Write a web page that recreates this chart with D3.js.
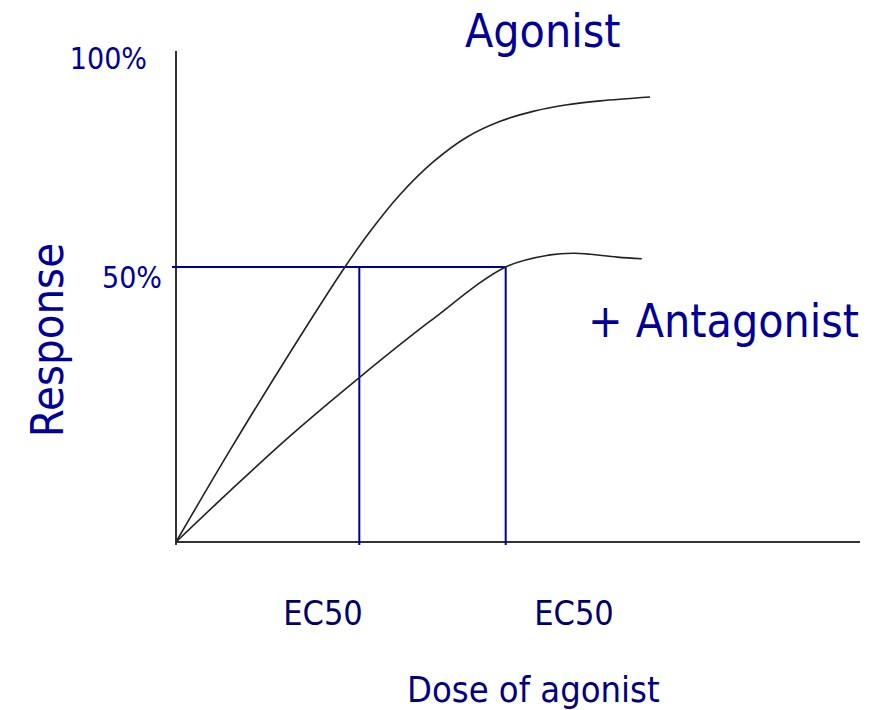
<!DOCTYPE html>
<html lang="en">
<head>
    <meta charset="UTF-8">
    <title>Agonist / Antagonist dose response</title>
    <script src="https://d3js.org/d3.v7.min.js"></script>
    <style>
        body { margin: 0; background: #fff; }
        text { font-family: "DejaVu Sans Condensed", "DejaVu Sans", sans-serif; font-stretch: condensed; }
    </style>
</head>
<body>
    <div id="chart"></div>
    <script>
        // dose (0-100, arbitrary units) and response (% of max)
        var agonistDose = [0, 7.9, 16.7, 24.7, 28.4, 32.7, 37.6, 42.5, 47.4, 52.2, 57.2, 62.0, 69.3];
        var agonistResp = [0, 16.7, 34.5, 50.0, 56.5, 63.1, 69.1, 73.6, 76.5, 78.3, 79.5, 80.2, 80.9];
        var antagDose = [0, 7.9, 16.7, 26.8, 37.1, 48.2, 54.7, 58.3, 64.5, 68.1];
        var antagResp = [0, 9.3, 19.3, 29.9, 40.1, 50.0, 52.2, 52.5, 51.8, 51.5];
        var ec50 = [26.8, 48.2];
        var ec50Labels = ["EC50", "EC50"];
        var halfResp = 50;
        var yTickLabels = ["50%", "100%"];

        var width = 892, height = 710;

        var x = d3.scaleLinear().domain([0, 100]).range([176, 860]);
        var y = d3.scaleLinear().domain([0, 100]).range([542, -8]);

        var svg = d3.select("#chart").append("svg")
            .attr("width", width)
            .attr("height", height);

        // axes
        svg.append("line")
            .attr("x1", x(0)).attr("x2", x(0))
            .attr("y1", 51).attr("y2", 545)
            .attr("stroke", "#333").attr("stroke-width", 2);
        svg.append("line")
            .attr("x1", x(0)).attr("x2", x(100))
            .attr("y1", y(0)).attr("y2", y(0))
            .attr("stroke", "#333").attr("stroke-width", 2);

        // 50% guide lines
        svg.append("line")
            .attr("x1", x(0) - 4).attr("x2", x(ec50[1]))
            .attr("y1", y(halfResp)).attr("y2", y(halfResp))
            .attr("stroke", "#000099").attr("stroke-width", 2);
        svg.selectAll(".ec-line")
            .data(ec50)
            .enter().append("line")
            .attr("class", "ec-line")
            .attr("x1", d => x(d)).attr("x2", d => x(d))
            .attr("y1", y(halfResp)).attr("y2", y(0) + 3)
            .attr("stroke", "#000099").attr("stroke-width", 2);

        // curves
        var line = d3.line()
            .x(d => x(d[0]))
            .y(d => y(d[1]))
            .curve(d3.curveCatmullRom.alpha(0.5));

        svg.append("path")
            .datum(d3.zip(agonistDose, agonistResp))
            .attr("d", line)
            .attr("fill", "none")
            .attr("stroke", "#222")
            .attr("stroke-width", 1.6);

        svg.append("path")
            .datum(d3.zip(antagDose, antagResp))
            .attr("d", line)
            .attr("fill", "none")
            .attr("stroke", "#222")
            .attr("stroke-width", 1.6);

        // labels
        svg.append("text")
            .attr("x", 162).attr("y", 288)
            .attr("text-anchor", "end")
            .attr("font-size", 30)
            .attr("fill", "#000099")
            .text(yTickLabels[0]);
        svg.append("text")
            .attr("x", 147).attr("y", 69)
            .attr("text-anchor", "end")
            .attr("font-size", 30)
            .attr("fill", "#000099")
            .text(yTickLabels[1]);

        svg.append("text")
            .attr("transform", "translate(63,340) rotate(-90)")
            .attr("text-anchor", "middle")
            .attr("font-size", 45)
            .attr("fill", "#000099")
            .text("Response");

        svg.append("text")
            .attr("x", 465).attr("y", 47)
            .attr("font-size", 46)
            .attr("fill", "#000099")
            .text("Agonist");

        svg.append("text")
            .attr("x", 588).attr("y", 337)
            .attr("font-size", 46)
            .attr("fill", "#000099")
            .text("+ Antagonist");

        var ecX = [323, 574];
        svg.selectAll(".ec-label")
            .data(ec50Labels)
            .enter().append("text")
            .attr("class", "ec-label")
            .attr("x", (d, i) => ecX[i]).attr("y", 625)
            .attr("text-anchor", "middle")
            .attr("font-size", 34)
            .attr("fill", "#000066")
            .text(d => d);

        svg.append("text")
            .attr("x", 407).attr("y", 702)
            .attr("font-size", 36)
            .attr("fill", "#000080")
            .text("Dose of agonist");
    </script>
</body>
</html>
